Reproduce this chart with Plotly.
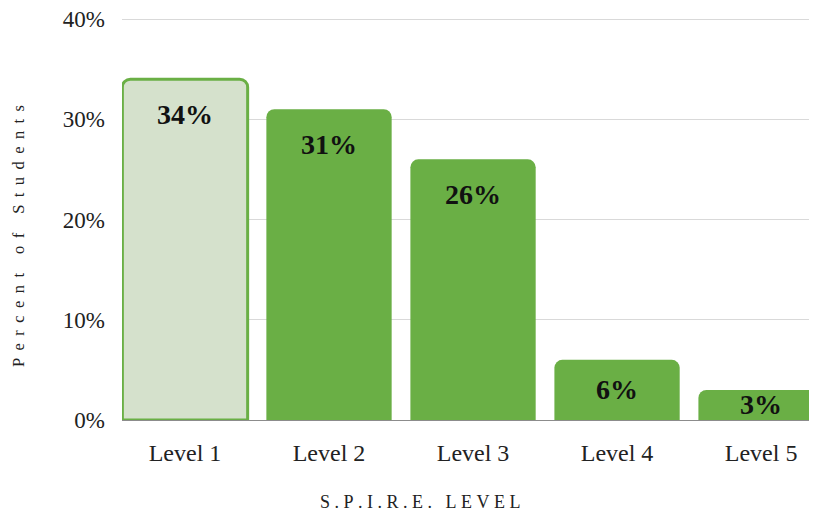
import plotly.graph_objects as go

categories = ["Level 1", "Level 2", "Level 3", "Level 4", "Level 5"]
percent_students = [34, 31, 26, 6, 3]
highlighted = [True, False, False, False, False]
y_ticks = [0, 10, 20, 30, 40]
y_tick_labels = ["0%", "10%", "20%", "30%", "40%"]

GREEN = "#6aaf45"
PALE = "#d5e1cc"
FONT = "Liberation Serif"

W, H = 817, 523
# the page body adds an 8px offset; margins compensate
M_L, M_R, M_T, M_B = 114, 0, 6, 111
PLOT_W = W - M_L - M_R
PLOT_H = H - M_T - M_B
px_per_unit = 401 / 40          # 40% gridline sits 401px above the baseline
Y_MAX = PLOT_H / px_per_unit     # small headroom so the 40% gridline is drawn


def spaced(text, gap, word_gap):
    words = text.split(" ")
    return word_gap.join(gap.join(list(w)) for w in words)


fig = go.Figure()
fig.add_trace(go.Bar(
    x=categories,
    y=percent_students,
    width=0.87,
    marker=dict(
        color=[PALE if h else GREEN for h in highlighted],
        line=dict(color=GREEN, width=[3 if h else 0 for h in highlighted]),
        cornerradius=8,
    ),
    hoverinfo="skip",
))

for cat, v in zip(categories, percent_students):
    fig.add_annotation(
        x=cat, y=v, text=f"<b>{v}%</b>", showarrow=False,
        yanchor="middle", xanchor="center",
        yshift=-min(35, v * px_per_unit / 2),
        font=dict(family=FONT, size=28, color="#111111"),
    )

fig.add_annotation(
    xref="paper", yref="paper", x=(412 - M_L) / PLOT_W, y=-(494 - (H - M_B)) / PLOT_H,
    text=spaced("S.P.I.R.E. LEVEL", "\u00a0", "\u00a0\u00a0\u00a0"),
    showarrow=False, xanchor="center", yanchor="middle",
    font=dict(family=FONT, size=18, color="#222222"),
)
fig.add_annotation(
    xref="paper", yref="paper", x=-(M_L - 10) / PLOT_W, y=(H - M_B - 228) / PLOT_H,
    text=spaced("Percent of Students", "\u00a0\u2009", "\u00a0\u2009\u00a0\u2009\u00a0"),
    showarrow=False, xanchor="center", yanchor="middle", textangle=-90,
    font=dict(family=FONT, size=16.5, color="#222222"),
)

fig.update_layout(
    width=W, height=H,
    margin=dict(l=M_L, r=M_R, t=M_T, b=M_B),
    paper_bgcolor="white", plot_bgcolor="white",
    showlegend=False,
    xaxis=dict(
        range=[-0.4375, 4.444],
        showgrid=False, showline=True, linecolor="#8c8c8c", linewidth=1,
        ticks="", ticklabelstandoff=11, automargin=False,
        tickfont=dict(family=FONT, size=24, color="#222222"),
        fixedrange=True,
    ),
    yaxis=dict(
        range=[0, Y_MAX], tickmode="array", tickvals=y_ticks, ticktext=y_tick_labels,
        showgrid=True, gridcolor="#d9d9d9", gridwidth=1,
        zeroline=False, showline=False,
        ticks="", ticklabelstandoff=16, automargin=False,
        ticklabeloverflow="allow",
        tickfont=dict(family=FONT, size=23, color="#222222"),
        fixedrange=True,
    ),
)

fig.write_html("out.html")
